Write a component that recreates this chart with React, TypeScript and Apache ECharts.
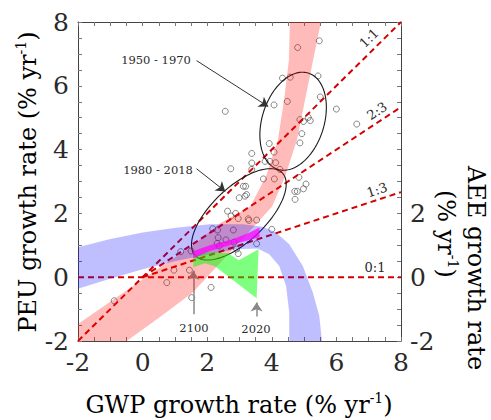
import React, { useEffect, useRef } from 'react';
import * as echarts from 'echarts';

const FONT = 'DejaVu Serif';
const TEXT_COLOR = '#2a2a2a';

// Axis ranges (% yr^-1)
const AXIS_MIN = -2;
const AXIS_MAX = 8;
const AXIS_STEP = 2;
const RIGHT_AXIS_LABELS = [-2, 0, 2];

// Annual observations: GWP growth rate vs PEU growth rate
const observations: [number, number][] = [
  [4.80, 7.20], [5.47, 7.41], [4.33, 6.24], [4.57, 6.27], [5.43, 6.31], [5.50, 5.65],
  [4.48, 5.51], [4.07, 5.40], [6.00, 5.27], [6.63, 4.80], [4.87, 4.94], [4.98, 4.88],
  [5.13, 5.01], [5.19, 4.91], [4.93, 4.50], [4.87, 4.21], [3.92, 4.19], [2.56, 5.20],
  [3.38, 3.88], [3.38, 3.58], [3.38, 3.38], [2.73, 3.40], [4.07, 3.92], [3.79, 3.63],
  [3.94, 3.63], [4.12, 3.59], [4.25, 3.38], [3.74, 3.08], [4.08, 3.08], [4.84, 3.13],
  [5.06, 2.92], [4.98, 2.77], [4.79, 2.69], [4.71, 2.69], [4.72, 2.44], [4.00, 1.50],
  [3.12, 2.85], [3.19, 2.85], [2.99, 2.49], [3.17, 2.54], [3.22, 2.59], [2.63, 2.07],
  [2.88, 2.00], [2.74, 1.92], [2.96, 1.84], [3.27, 1.83], [3.29, 1.78], [3.53, 1.79],
  [2.17, 1.52], [2.32, 1.48], [2.81, 1.48], [2.34, 1.24], [2.31, 1.06], [2.58, 1.17],
  [2.83, 1.10], [2.37, 0.98], [2.91, 0.88], [2.96, 0.74], [3.53, 1.05], [1.50, 0.82],
  [1.18, 0.80], [0.97, 0.22], [1.45, 0.22], [0.75, -0.17], [2.12, -0.32], [1.52, -0.64],
  [-0.88, -0.74],
];

// Ratio reference lines (PEU : GWP)
const ratio11: [number, number][] = [[-2, -2], [8, 8]];
const ratio23: [number, number][] = [[0, 0], [8, 5.333]];
const ratio13: [number, number][] = [[0, 0], [8, 2.667]];
const ratio01: [number, number][] = [[-2, 0], [8, 0]];

// Red (PEU) band edges
const redEdgeLeft: [number, number][] = [
  [-3.18, -2.28], [-2.0, -1.47], [-0.89, -0.69], [0.23, 0.09], [1.56, 1.0], [2.40, 1.69],
  [3.33, 2.22], [3.82, 3.16], [4.19, 4.31], [4.38, 5.56], [4.53, 6.81], [4.56, 8.0], [4.56, 8.69],
];
const redEdgeRight: [number, number][] = [
  [5.52, 8.69], [5.52, 8.0], [5.28, 6.81], [5.03, 5.56], [4.78, 4.31], [4.41, 3.16],
  [4.01, 2.22], [3.08, 1.19], [1.56, -0.47], [0.54, -1.25], [-0.45, -1.97], [-1.01, -2.38],
];

// Blue (AEE) band edges
const blueOuter: [number, number][] = [
  [-2.25, 0.875], [-1.03, 1.19], [0.0, 1.40], [1.03, 1.55], [2.07, 1.66], [3.10, 1.66],
  [3.72, 1.58], [4.13, 1.40], [4.54, 1.03], [4.96, 0.35], [5.27, -0.48], [5.47, -1.21],
  [5.55, -1.97], [5.58, -2.41],
];
const blueInner: [number, number][] = [
  [-2.25, -0.44], [-1.03, -0.06], [0.0, 0.25], [1.03, 0.51], [2.07, 0.72], [2.89, 0.875],
  [3.56, 0.90], [3.92, 0.72], [4.23, 0.35], [4.44, -0.27], [4.54, -1.10], [4.54, -1.97],
  [4.55, -2.41],
];

// Projection regions 2020 -> 2100
const greenRegion: [number, number][] = [
  [1.57, 0.69], [2.06, 0.78], [2.64, 0.75], [2.98, 0.53], [3.20, 0.66], [3.59, 0.875],
  [3.53, -0.66], [2.24, 0.34], [1.93, 0.44], [1.57, 0.31],
];
const magentaRegion: [number, number][] = [
  [1.57, 0.81], [2.08, 1.0], [2.80, 1.19], [3.33, 1.41], [3.62, 1.56], [3.62, 1.25],
  [2.89, 1.06], [2.06, 0.81], [1.57, 0.59],
];

// Period ellipses
const ellipse1950 = { center: [4.66, 4.89], semiMajor: 1.58, semiMinor: 0.96, angleDeg: 72.8 };
const ellipse1980 = { center: [2.98, 1.97], semiMajor: 1.87, semiMinor: 0.84, angleDeg: 44 };

// Annotation arrows (data coords)
const arrow1950: [number, number][] = [[1.67, 6.79], [3.89, 5.35]];
const arrow1980: [number, number][] = [[1.67, 3.40], [2.56, 2.69]];
const arrow2100: [number, number][] = [[1.57, -1.16], [1.57, 0.20]];
const arrow2020: [number, number][] = [[3.53, -1.23], [3.53, -0.79]];

function ellipsePoints(e: { center: number[]; semiMajor: number; semiMinor: number; angleDeg: number }) {
  const pts: [number, number][] = [];
  const th = (e.angleDeg * Math.PI) / 180;
  const n = 160;
  for (let i = 0; i <= n; i++) {
    const t = (i / n) * Math.PI * 2;
    const u = e.semiMajor * Math.cos(t);
    const v = e.semiMinor * Math.sin(t);
    pts.push([e.center[0] + u * Math.cos(th) - v * Math.sin(th), e.center[1] + u * Math.sin(th) + v * Math.cos(th)]);
  }
  return pts;
}

function polygonSeries(pts: [number, number][], fill: string, z: number) {
  return {
    type: 'custom',
    silent: true,
    clip: true,
    z,
    data: [[0, 0]],
    renderItem: (_p: any, api: any) => ({
      type: 'polygon',
      shape: { points: pts.map((p) => api.coord(p)) },
      style: { fill, stroke: 'none' },
    }),
  };
}

function lineSeries(pts: [number, number][], color: string, width: number, dashed: boolean, z: number) {
  return {
    type: 'line',
    silent: true,
    symbol: 'none',
    z,
    data: pts,
    lineStyle: { color, width, type: dashed ? [6, 4] : 'solid' },
    clip: true,
  };
}

function axisCommon(position: string, showLabel: boolean, labelFilter?: number[]) {
  return {
    type: 'value',
    min: AXIS_MIN,
    max: AXIS_MAX,
    interval: AXIS_STEP,
    position,
    axisLine: { show: true, onZero: false, lineStyle: { color: '#444', width: 1 } },
    axisTick: { show: true, inside: true, length: 4, lineStyle: { color: '#777' } },
    minorTick: { show: true, splitNumber: 4, length: 4, lineStyle: { color: '#777' } },
    splitLine: { show: false },
    axisLabel: {
      show: showLabel,
      fontFamily: FONT,
      fontSize: 25,
      color: TEXT_COLOR,
      margin: 9,
      formatter: (v: number) => (labelFilter && !labelFilter.includes(v) ? '' : String(v)),
    },
  };
}

export default function App() {
  const ref = useRef<HTMLDivElement>(null);
  useEffect(() => {
    if (!ref.current) return;
    const chart = echarts.init(ref.current, null, { renderer: 'svg' });
    const supRich = {
      a: { fontFamily: FONT, fontSize: 24, color: TEXT_COLOR, lineHeight: 26, verticalAlign: 'bottom' },
      s: { fontFamily: FONT, fontSize: 14, color: TEXT_COLOR, lineHeight: 26, verticalAlign: 'top' },
    };
    const smallText = (text: string, x: number, y: number, rotDeg = 0, size = 11.5) => ({
      type: 'text',
      x,
      y,
      rotation: (rotDeg * Math.PI) / 180,
      z: 100,
      style: { text, fontFamily: FONT, fontSize: size, fill: TEXT_COLOR, align: 'center', verticalAlign: 'middle' },
    });
    chart.setOption({
      animation: false,
      backgroundColor: '#fff',
      grid: { left: 78, right: 90, top: 22, bottom: 79 },
      xAxis: [axisCommon('bottom', true), axisCommon('top', false)],
      yAxis: [axisCommon('left', true), axisCommon('right', true, RIGHT_AXIS_LABELS)],
      series: [
        {
          type: 'scatter',
          silent: true,
          z: 2,
          data: observations,
          symbol: 'circle',
          symbolSize: 6,
          itemStyle: { color: 'rgba(0,0,0,0)', borderColor: '#444', borderWidth: 0.8 },
        },
        lineSeries(ratio11, '#d40000', 2, true, 3),
        lineSeries(ratio23, '#d40000', 2, true, 3),
        lineSeries(ratio13, '#d40000', 2, true, 3),
        lineSeries(ratio01, '#d40000', 2, true, 3),
        lineSeries(ellipsePoints(ellipse1950), '#1a1a1a', 1.1, false, 3),
        lineSeries(ellipsePoints(ellipse1980), '#1a1a1a', 1.1, false, 3),
        polygonSeries([...redEdgeLeft, ...redEdgeRight], 'rgba(255,0,0,0.27)', 5),
        polygonSeries([...blueOuter, ...blueInner.slice().reverse()], 'rgba(0,0,255,0.25)', 6),
        polygonSeries(greenRegion, 'rgba(0,255,0,0.5)', 7),
        polygonSeries(magentaRegion, 'rgba(255,0,255,0.75)', 8),
        {
          type: 'line',
          data: [],
          z: 9,
          markLine: {
            silent: true,
            symbol: ['none', 'arrow'],
            symbolSize: 9,
            label: { show: false },
            lineStyle: { color: '#333', width: 1, type: 'solid' },
            emphasis: { disabled: true },
            data: [
              [{ coord: arrow1950[0] }, { coord: arrow1950[1] }],
              [{ coord: arrow1980[0] }, { coord: arrow1980[1] }],
              [{ coord: arrow2100[0], lineStyle: { color: '#888', width: 1.5 } }, { coord: arrow2100[1] }],
              [{ coord: arrow2020[0], lineStyle: { color: '#888', width: 1.5 } }, { coord: arrow2020[1] }],
            ],
          },
        },
      ],
      graphic: [
        {
          type: 'text',
          x: 239,
          y: 404,
          z: 100,
          style: {
            text: '{a|GWP growth rate (% yr}{s|-1}{a|)}',
            align: 'center',
            verticalAlign: 'middle',
            rich: supRich,
          },
        },
        {
          type: 'text',
          x: 27,
          y: 182,
          rotation: Math.PI / 2,
          z: 100,
          style: {
            text: '{a|PEU growth rate (% yr}{s|-1}{a|)}',
            align: 'center',
            verticalAlign: 'middle',
            rich: supRich,
          },
        },
        {
          type: 'text',
          x: 477,
          y: 166,
          rotation: -Math.PI / 2,
          z: 100,
          style: {
            text: '{a|AEE growth rate}',
            align: 'left',
            verticalAlign: 'middle',
            rich: supRich,
          },
        },
        {
          type: 'text',
          x: 447,
          y: 190,
          rotation: -Math.PI / 2,
          z: 100,
          style: {
            text: '{a|(% yr}{s|-1}{a|)}',
            align: 'left',
            verticalAlign: 'middle',
            rich: supRich,
          },
        },
        smallText('1:1', 369, 38, 45, 13),
        smallText('2:3', 377, 111, 33.5, 13),
        smallText('1:3', 377, 190, 18.3, 13),
        smallText('0:1', 375, 267, 0, 13),
        smallText('1950 - 1970', 156, 60),
        smallText('1980 - 2018', 158, 170),
        smallText('2100', 194, 328),
        smallText('2020', 256, 329),
      ],
    });
    return () => chart.dispose();
  }, []);
  return <div ref={ref} style={{ position: 'fixed', left: 0, top: 0, width: 491, height: 420 }} />;
}
